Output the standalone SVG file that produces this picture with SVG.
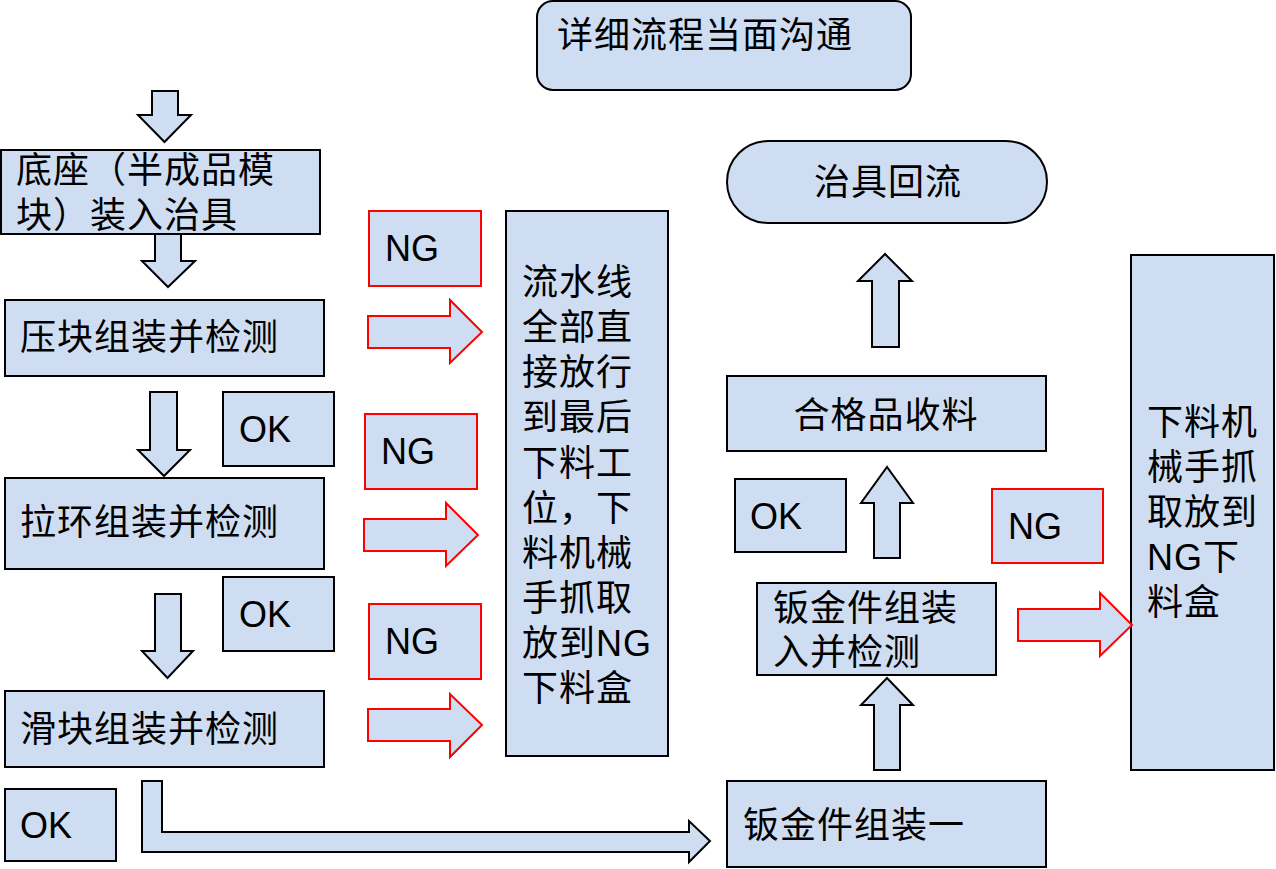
<svg xmlns="http://www.w3.org/2000/svg" width="1276" height="869" viewBox="0 0 1276 869">
<style>
.b{fill:#cfddf2;stroke:#000;stroke-width:2}
.r{fill:#cfddf2;stroke:#ff0000;stroke-width:2}
.a{fill:#cfddf2;stroke:#000;stroke-width:2;stroke-linejoin:miter}
.ra{fill:#cfddf2;stroke:#ff0000;stroke-width:2}
.t{font-family:"Liberation Sans","Noto Sans CJK SC",sans-serif;font-size:36px;fill:#000;letter-spacing:1px}
.l{font-family:"Liberation Sans",Arial,sans-serif;font-size:36px;fill:#000}
</style>
<rect width="1276" height="869" fill="#fff"/>
<g id="title"><rect class="b" x="537" y="1" width="374" height="89" rx="16"/><text class="t" x="557" y="48">详细流程当面沟通</text></g>
<g id="n1"><rect class="b" x="1" y="150" width="319" height="84"/><text class="t" x="16" y="183">底座（半成品模</text><text class="t" x="16" y="228">块）装入治具</text></g>
<g id="n2"><rect class="b" x="5" y="300" width="319" height="76"/><text class="t" x="20" y="350">压块组装并检测</text></g>
<g id="n3"><rect class="b" x="5" y="478" width="319" height="91"/><text class="t" x="20" y="535">拉环组装并检测</text></g>
<g id="n4"><rect class="b" x="5" y="691" width="319" height="76"/><text class="t" x="20" y="742">滑块组装并检测</text></g>
<g id="ok1"><rect class="b" x="223" y="392" width="111" height="74"/><text class="l" x="239" y="442">OK</text></g>
<g id="ok2"><rect class="b" x="223" y="577" width="111" height="74"/><text class="l" x="239" y="627">OK</text></g>
<g id="ok3"><rect class="b" x="5" y="789" width="111" height="72"/><text class="l" x="20" y="838">OK</text></g>
<g id="ok4"><rect class="b" x="735" y="479" width="111" height="73"/><text class="l" x="750" y="529">OK</text></g>
<g id="ng1"><rect class="r" x="369" y="211" width="112" height="75"/><text class="l" x="385" y="261">NG</text></g>
<g id="ng2"><rect class="r" x="365" y="414" width="112" height="75"/><text class="l" x="381" y="464">NG</text></g>
<g id="ng3"><rect class="r" x="369" y="604" width="112" height="75"/><text class="l" x="385" y="654">NG</text></g>
<g id="ng4"><rect class="r" x="992" y="489" width="111" height="74"/><text class="l" x="1008" y="539">NG</text></g>
<g id="mid"><rect class="b" x="506" y="211" width="162" height="545"/>
<text class="t" x="522" y="295">流水线</text>
<text class="t" x="522" y="340">全部直</text>
<text class="t" x="522" y="385">接放行</text>
<text class="t" x="522" y="430">到最后</text>
<text class="t" x="522" y="476">下料工</text>
<text class="t" x="522" y="521">位，下</text>
<text class="t" x="522" y="566">料机械</text>
<text class="t" x="522" y="611">手抓取</text>
<text class="t" x="522" y="656">放到NG</text>
<text class="t" x="522" y="701">下料盒</text>
</g>
<g id="right"><rect class="b" x="1131" y="255" width="143" height="515"/>
<text class="t" x="1147" y="435">下料机</text>
<text class="t" x="1147" y="480">械手抓</text>
<text class="t" x="1147" y="525">取放到</text>
<text class="t" x="1147" y="570">NG下</text>
<text class="t" x="1147" y="615">料盒</text>
</g>
<g id="s1"><rect class="b" x="727" y="781" width="319" height="86"/><text class="t" x="743" y="838">钣金件组装一</text></g>
<g id="s2"><rect class="b" x="757" y="583" width="239" height="92"/><text class="t" x="773" y="621">钣金件组装</text><text class="t" x="773" y="665">入并检测</text></g>
<g id="good"><rect class="b" x="727" y="376" width="319" height="75"/><text class="t" x="886" y="428" text-anchor="middle">合格品收料</text></g>
<g id="ret"><rect class="b" x="727" y="141" width="320" height="82" rx="41"/><text class="t" x="888" y="195" text-anchor="middle">治具回流</text></g>
<g id="connectors">
<polygon class="a" points="152,91 178,91 178,115 191,115 164.5,142 138,115 152,115"/>
<polygon class="a" points="155,234 181,234 181,261 195,261 168,287 142,261 155,261"/>
<polygon class="a" points="150,392 177,392 177,450 190,450 164,476 138,450 150,450"/>
<polygon class="a" points="155,594 181,594 181,651 193,651 167.5,678 142,651 155,651"/>
<polygon class="a" points="142,781 162,781 162,832 689,832 689,821 710,841 689,862 689,852 142,852"/>
<polygon class="a" points="874,770 900,770 900,705 913,705 887,678 861,705 874,705"/>
<polygon class="a" points="874,558 900,558 900,503 913,503 887,467 861,503 874,503"/>
<polygon class="a" points="872,347 899,347 899,281 912,281 885,254 858,281 872,281"/>
<polygon class="ra" points="368,316 450,316 450,300 482,332 450,363 450,348 368,348"/>
<polygon class="ra" points="364,519 446,519 446,503 478,535 446,566 446,551 364,551"/>
<polygon class="ra" points="368,709 450,709 450,694 482,725 450,757 450,741 368,741"/>
<polygon class="ra" points="1018,609 1100,609 1100,593 1132,625 1100,656 1100,641 1018,641"/>
</g>
</svg>
